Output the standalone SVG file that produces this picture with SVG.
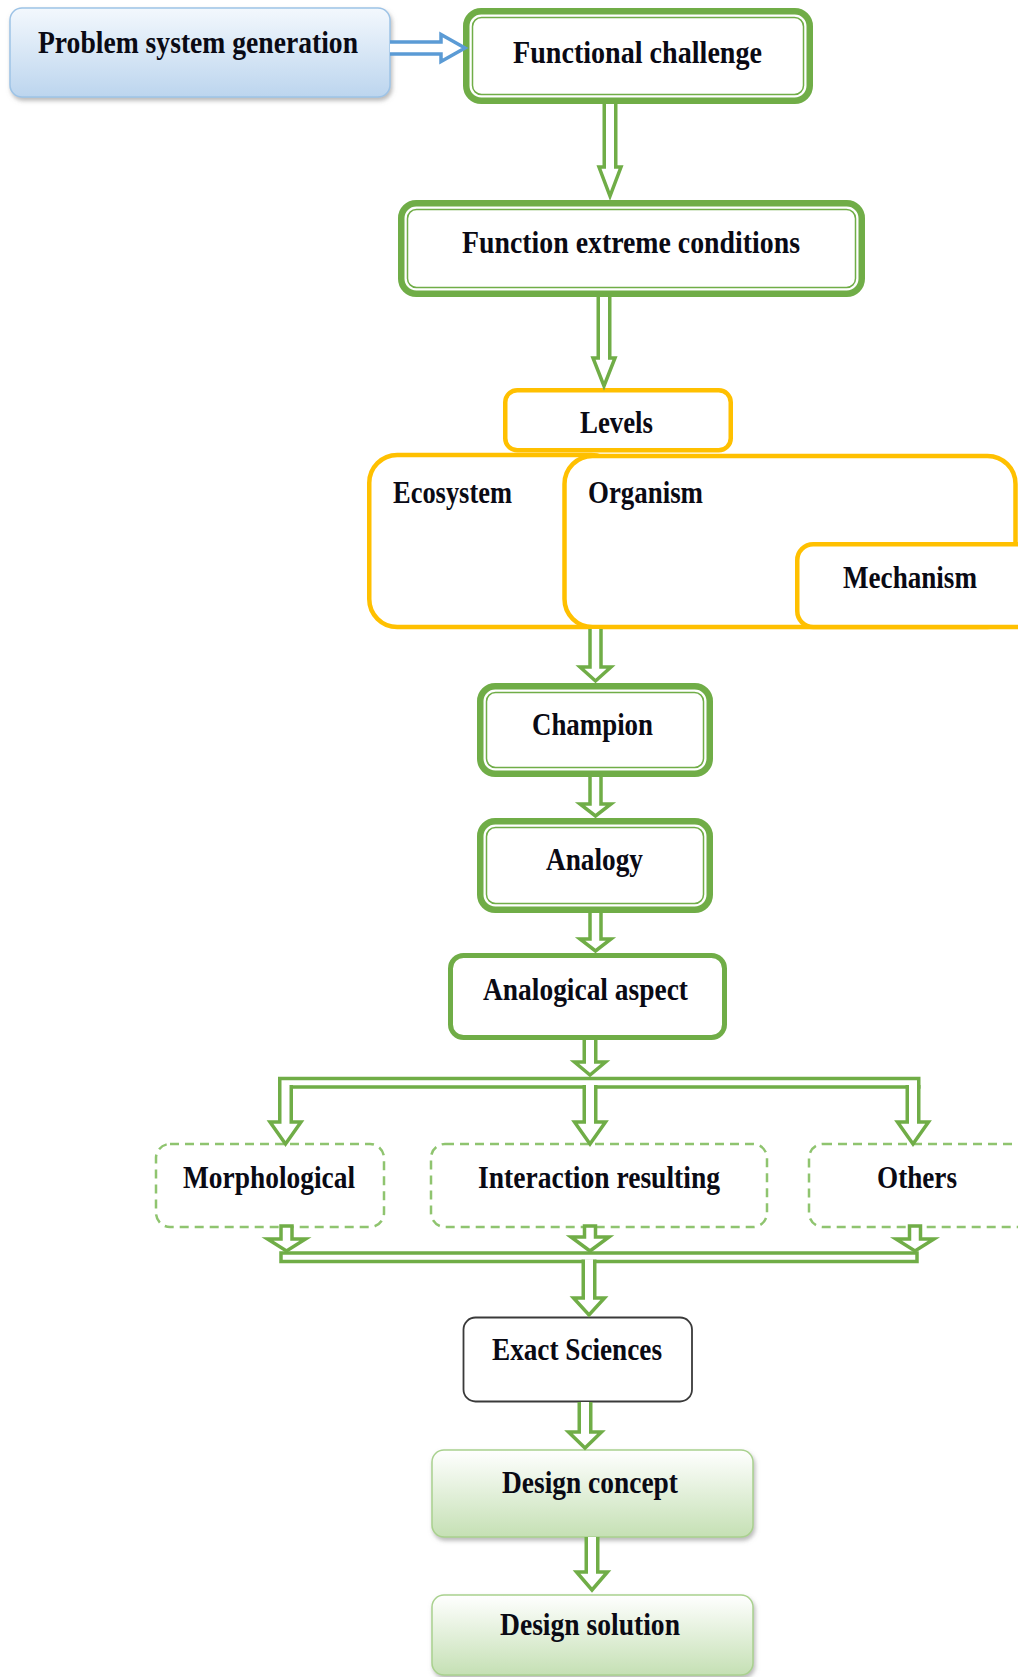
<svg xmlns="http://www.w3.org/2000/svg" width="1018" height="1677" viewBox="0 0 1018 1677">
  <defs>
    <linearGradient id="gradBlue" x1="0" y1="0" x2="0" y2="1">
      <stop offset="0" stop-color="#F3F8FD"/>
      <stop offset="1" stop-color="#BCD5EE"/>
    </linearGradient>
    <linearGradient id="gradGreen" x1="0" y1="0" x2="0" y2="1">
      <stop offset="0" stop-color="#FFFFFF"/>
      <stop offset="1" stop-color="#C5E0B4"/>
    </linearGradient>
    <filter id="shadow" x="-5%" y="-10%" width="110%" height="130%">
      <feDropShadow dx="1.5" dy="3" stdDeviation="2" flood-color="#7f7f7f" flood-opacity="0.55"/>
    </filter>
  </defs>
  <style>
    .lbl { font-family: "Liberation Serif", "Times New Roman", serif; font-weight: bold; font-size: 31px; fill: #0a0a14; }
    .dbl-outer { fill: #FFFFFF; stroke: #70AD47; stroke-width: 6.5; }
    .dbl-inner { fill: none; stroke: #70AD47; stroke-width: 1.5; }
    .single { fill: #FFFFFF; stroke: #70AD47; stroke-width: 5; }
    .level { fill: #FFFFFF; stroke: #FFC000; stroke-width: 4.5; }
    .dashed { fill: #FFFFFF; stroke: #8FC46F; stroke-width: 2.5; stroke-dasharray: 9 6; }
    .plain { fill: #FFFFFF; stroke: #3a3a3a; stroke-width: 1.8; }
    .soft-green { fill: url(#gradGreen); stroke: #A9D18E; stroke-width: 1.5; filter: url(#shadow); }
    .soft-blue { fill: url(#gradBlue); stroke: #9DC3E6; stroke-width: 1.5; filter: url(#shadow); }
    .blk { fill: #FFFFFF; stroke: #70AD47; stroke-width: 3.5; stroke-linejoin: miter; }
    .blk-blue { fill: #FFFFFF; stroke: #5B9BD5; stroke-width: 3.5; stroke-linejoin: miter; }
  </style>

  <rect x="0" y="0" width="1018" height="1677" fill="#FFFFFF"/>

  <!-- nodes -->
  <g id="problem-system-generation">
    <rect class="soft-blue" x="10" y="8" width="380" height="89" rx="12"/>
    <text class="lbl" x="38" y="53" textLength="320" lengthAdjust="spacingAndGlyphs">Problem system generation</text>
  </g>

  <g id="functional-challenge">
    <rect class="dbl-outer" x="466.25" y="11.25" width="343.5" height="89.5" rx="15"/>
    <rect class="dbl-inner" x="472.5" y="17.5" width="331" height="77" rx="9"/>
    <text class="lbl" x="513" y="63" textLength="249" lengthAdjust="spacingAndGlyphs">Functional challenge</text>
  </g>

  <g id="function-extreme-conditions">
    <rect class="dbl-outer" x="401.25" y="203.25" width="460.5" height="90.5" rx="15"/>
    <rect class="dbl-inner" x="407.5" y="209.5" width="448" height="78" rx="9"/>
    <text class="lbl" x="462" y="253" textLength="338" lengthAdjust="spacingAndGlyphs">Function extreme conditions</text>
  </g>

  <g id="ecosystem">
    <rect class="level" x="369.25" y="455" width="250" height="172" rx="28"/>
    <text class="lbl" x="393" y="503" textLength="119" lengthAdjust="spacingAndGlyphs">Ecosystem</text>
  </g>

  <g id="organism">
    <rect class="level" x="564.5" y="456" width="451" height="171" rx="28"/>
    <text class="lbl" x="588" y="503" textLength="115" lengthAdjust="spacingAndGlyphs">Organism</text>
  </g>

  <g id="mechanism">
    <rect class="level" x="797.25" y="544.25" width="240" height="82.75" rx="16"/>
    <text class="lbl" x="843" y="588" textLength="134" lengthAdjust="spacingAndGlyphs">Mechanism</text>
  </g>

  <g id="levels">
    <rect class="level" x="505.25" y="390.25" width="225.5" height="60" rx="12"/>
    <text class="lbl" x="580" y="433" textLength="73" lengthAdjust="spacingAndGlyphs">Levels</text>
  </g>

  <g id="champion">
    <rect class="dbl-outer" x="480.25" y="686.25" width="229.5" height="87.5" rx="15"/>
    <rect class="dbl-inner" x="486.5" y="692.5" width="217" height="75" rx="9"/>
    <text class="lbl" x="532" y="735" textLength="121" lengthAdjust="spacingAndGlyphs">Champion</text>
  </g>

  <g id="analogy">
    <rect class="dbl-outer" x="480.25" y="821.25" width="229.5" height="88.5" rx="15"/>
    <rect class="dbl-inner" x="486.5" y="827.5" width="217" height="76" rx="9"/>
    <text class="lbl" x="546" y="870" textLength="97" lengthAdjust="spacingAndGlyphs">Analogy</text>
  </g>

  <g id="analogical-aspect">
    <rect class="single" x="450.5" y="955.5" width="274" height="82" rx="13"/>
    <text class="lbl" x="483" y="1000" textLength="205" lengthAdjust="spacingAndGlyphs">Analogical aspect</text>
  </g>

  <g id="morphological">
    <rect class="dashed" x="156" y="1144" width="228" height="83" rx="14"/>
    <text class="lbl" x="183" y="1188" textLength="172" lengthAdjust="spacingAndGlyphs">Morphological</text>
  </g>

  <g id="interaction-resulting">
    <rect class="dashed" x="431" y="1144" width="336" height="83" rx="14"/>
    <text class="lbl" x="478" y="1188" textLength="242" lengthAdjust="spacingAndGlyphs">Interaction resulting</text>
  </g>

  <g id="others">
    <rect class="dashed" x="809" y="1144" width="230" height="83" rx="14"/>
    <text class="lbl" x="877" y="1188" textLength="80" lengthAdjust="spacingAndGlyphs">Others</text>
  </g>

  <g id="exact-sciences">
    <rect class="plain" x="463.5" y="1317.5" width="228.5" height="84" rx="12"/>
    <text class="lbl" x="492" y="1360" textLength="170" lengthAdjust="spacingAndGlyphs">Exact Sciences</text>
  </g>

  <g id="design-concept">
    <rect class="soft-green" x="432" y="1450" width="321" height="87" rx="12"/>
    <text class="lbl" x="502" y="1493" textLength="176" lengthAdjust="spacingAndGlyphs">Design concept</text>
  </g>

  <g id="design-solution">
    <rect class="soft-green" x="432" y="1595" width="321" height="80" rx="12"/>
    <text class="lbl" x="500" y="1635" textLength="180" lengthAdjust="spacingAndGlyphs">Design solution</text>
  </g>

  <!-- connectors: hollow block arrows -->
  <g id="connectors">
    <!-- problem system generation to functional challenge -->
    <path class="blk-blue" d="M390,42 H441 V34.5 L465,48 L441,61.5 V54 H390"/>

    <!-- main vertical chain -->
    <path class="blk" d="M604.25,104 V167 H599 L610,196 L621,167 H615.75 V104"/>
    <path class="blk" d="M598.25,297 V358 H593 L604,386 L615,358 H609.75 V297"/>
    <path class="blk" d="M590,629 V667 H580 L595.5,681 L611,667 H601 V629"/>
    <path class="blk" d="M590,777 V804 H580 L595.5,816 L611,804 H601 V777"/>
    <path class="blk" d="M590,913 V939 H580 L595.5,951 L611,939 H601 V913"/>
    <path class="blk" d="M584.25,1040 V1062 H574.5 L590,1075 L605.5,1062 H595.75 V1040"/>

    <!-- upper distribution bar and its three branches -->
    <rect class="blk" x="279.75" y="1078.5" width="639" height="8.5"/>
    <path class="blk" d="M279.75,1085 V1122 H270 L285.5,1144 L301,1122 H291.25 V1085"/>
    <path class="blk" d="M584.25,1085 V1122 H574.5 L590,1144 L605.5,1122 H595.75 V1085"/>
    <path class="blk" d="M907.25,1085 V1122 H897.5 L913,1144 L928.5,1122 H918.75 V1085"/>

    <!-- lower gathering bar -->
    <rect class="blk" x="281" y="1253" width="636" height="8.5"/>
    <path class="blk" d="M281,1226 V1239 H267.5 L286.5,1251 L305.5,1239 H292 V1226 Z"/>
    <path class="blk" d="M584.5,1226 V1237 H571 L590,1251 L609,1237 H595.5 V1226 Z"/>
    <path class="blk" d="M909.5,1226 V1239 H896 L915,1251 L934,1239 H920.5 V1226 Z"/>
    <path class="blk" d="M583.25,1259.5 V1298 H573.5 L589,1315 L604.5,1298 H594.75 V1259.5"/>

    <!-- exact sciences to design concept to design solution -->
    <path class="blk" d="M579.25,1402 V1432 H568.5 L585,1448 L601.5,1432 H590.75 V1402"/>
    <path class="blk" d="M586.25,1537 V1572 H576.5 L592,1590 L607.5,1572 H597.75 V1537"/>
  </g>
</svg>
